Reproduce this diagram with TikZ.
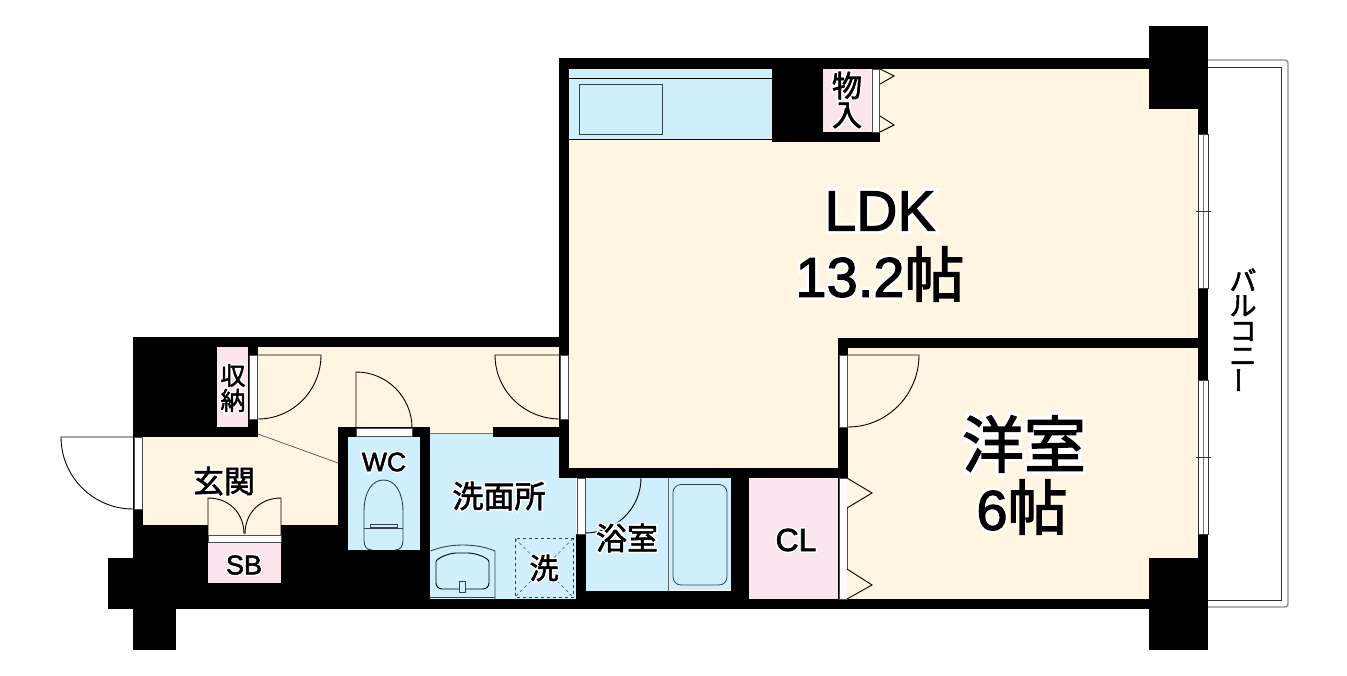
\documentclass[tikz,border=0pt]{standalone}
\usepackage{fontspec}
\usepackage{graphicx}
\usetikzlibrary{calc}
\setmainfont{Liberation Sans}
\newfontfamily\latin[FakeBold=2]{Liberation Sans}
\newfontfamily\cjk[FakeBold=2]{Noto Sans CJK JP}
\newfontfamily\cjkhalo[FakeBold=12]{Noto Sans CJK JP}
\newfontfamily\lathalo[FakeBold=12]{Liberation Sans}
\definecolor{cream}{HTML}{FFF5E0}
\definecolor{sky}{HTML}{CFEFFD}
\definecolor{rose}{HTML}{FBE6F0}
\definecolor{fix}{HTML}{33434D}
\tikzset{
  wall/.style={fill=black},
  creamroom/.style={fill=cream},
  skyroom/.style={fill=sky},
  roseroom/.style={fill=rose},
  doorstrip/.style={fill=white,draw=black!70,line width=.5pt},
  leaf/.style={draw=black,line width=.9pt},
  fixture/.style={draw=fix,line width=.9pt},
  lab/.style={inner sep=0pt,align=center,text=black},
  halo/.style={inner sep=0pt,align=center,text=white}
}
% halo label: name, position, size, font family, halo font, text
\newcommand{\lbl}[6]{%
  \node[halo,font=#5\fontsize{#3}{#3}\selectfont] at (#2) {#6};
  \node[lab,font=#4\fontsize{#3}{#3}\selectfont] (#1) at (#2) {#6};}
% door: hinge, leaf end, arc end
\newcommand{\doorleaf}[3]{%
  \draw[leaf] (#1) -- (#2) .. controls ($(#2)+0.5523*(#3)-0.5523*(#1)$) and ($(#3)+0.5523*(#2)-0.5523*(#1)$) .. (#3);}
\begin{document}
\begin{tikzpicture}[x=1pt,y=-1pt]
\useasboundingbox (0,0) rectangle (1347,676);
\fill[white] (0,0) rectangle (1347,676);
% balcony
\draw[draw=black!45,line width=1.4pt,rounded corners=3pt] (1208,60) -- (1288,60) -- (1288,607) -- (1208,607);
\draw[draw=black!80,line width=.9pt] (1208,67) -- (1281.5,67) -- (1281.5,600) -- (1208,600);
% cream rooms
\fill[creamroom] (569,69) rectangle (1198,338);
\fill[creamroom] (569,338) rectangle (838,468);
\fill[creamroom] (848,348) rectangle (1198,599);
\fill[creamroom] (258,347) rectangle (559,427);
\fill[creamroom] (258,427) rectangle (338,437);
\fill[creamroom] (430,427) rectangle (493,433);
\fill[creamroom] (143,437) rectangle (338,525);
\fill[creamroom] (208,525) rectangle (281,535);
% walls
\fill[wall] (133,337) rectangle (569,347);
\fill[wall] (133,337) rectangle (258,437);
\fill[wall] (133,437) rectangle (143,558);
\fill[wall] (133,525) rectangle (208,609);
\fill[wall] (281,525) rectangle (430,609);
\fill[wall] (208,583) rectangle (281,609);
\fill[wall] (108,558) rectangle (176,609);
\fill[wall] (133,609) rectangle (176,650);
\fill[wall] (338,427) rectangle (430,609);
\fill[wall] (430,599) rectangle (1208,609);
\fill[wall] (493,427) rectangle (569,437);
\fill[wall] (559,58) rectangle (569,478);
\fill[wall] (559,58) rectangle (1149,69);
\fill[wall] (559,468) rectangle (848,478);
\fill[wall] (838,338) rectangle (848,600);
\fill[wall] (838,338) rectangle (1208,348);
\fill[wall] (1149,26) rectangle (1208,109);
\fill[wall] (1198,26) rectangle (1208,650);
\fill[wall] (1149,558) rectangle (1208,650);
\fill[wall] (772,58) rectangle (823,142);
\fill[wall] (823,132) rectangle (880,142);
\fill[wall] (731,478) rectangle (749,609);
\fill[wall] (576,534) rectangle (586,609);
\fill[wall] (586,591) rectangle (731,609);
% kitchen
\fill[skyroom] (569,69) rectangle (772,139);
\draw[black,line width=.9pt] (569,78) -- (772,78);
\draw[black,line width=.9pt] (569,139) -- (772,139);
\draw[fixture] (579.5,84.5) rectangle (662,134);
% wet rooms
\fill[skyroom] (430,433) rectangle (493,437);
\fill[skyroom] (430,437) rectangle (559,478);
\fill[skyroom] (430,478) rectangle (576,599);
\fill[skyroom] (348,437) rectangle (419.5,550);
\fill[skyroom] (586,478) rectangle (668,591);
\fill[skyroom] (669,478) rectangle (731,590);
\draw[draw=black!55,line width=.5pt] (430,433) -- (493,433);
\draw[draw=black!60,line width=.7pt] (668.5,478) -- (668.5,591);
\draw[fixture,rounded corners=8pt,line width=.8pt] (673,484.5) rectangle (727,585);
% pink rooms
\fill[roseroom] (217,347) rectangle (248,427);
\fill[roseroom] (208,542) rectangle (281,583);
\fill[roseroom] (749,478) rectangle (838,599);
\fill[roseroom] (823,69) rectangle (871,132);
% door strips
\draw[doorstrip] (249,355) rectangle (257,419);
\draw[doorstrip] (134.5,437) rectangle (142,509);
\draw[doorstrip] (208,535) rectangle (281,542);
\draw[doorstrip] (356,428) rectangle (412,436);
\draw[doorstrip] (560,355) rectangle (568,419);
\draw[doorstrip] (839,355) rectangle (847,427);
\draw[doorstrip] (577.5,478) rectangle (585,534);
\draw[doorstrip] (839,478) rectangle (847,599);
\draw[doorstrip] (872,69) rectangle (879.5,132);
% door leaves
\doorleaf{258,355}{321,355}{258,419}
\doorleaf{133,437}{61,437}{133,509}
\doorleaf{356,428}{356,372}{412,428}
\doorleaf{560,355}{495,355}{560,419}
\doorleaf{848,355}{919,355}{848,427}
\draw[leaf] (208,535) -- (208,498) .. controls (229,498) and (244,513) .. (244,534);
\draw[leaf] (281,535) -- (281,498) .. controls (260,498) and (245,513) .. (245,534);
\draw[leaf] (585,533) .. controls (616,533) and (641,508) .. (641,478);
\draw[leaf,fill=cream] (847,478) -- (872,493) -- (847,508);
\draw[leaf,fill=cream] (847,569) -- (872,585) -- (847,599);
\draw[leaf,fill=cream] (880,69) -- (894,76) -- (880,84);
\draw[leaf,fill=cream] (880,116) -- (894,125) -- (880,132);
\draw[draw=black!70,line width=.7pt] (258,434) -- (338,463);
% toilet
\draw[fixture] (364,530) -- (364,512) .. controls (364,492) and (372,480) .. (383.5,480) .. controls (395,480) and (403,492) .. (403,512) -- (403,540) .. controls (403,547) and (400,550) .. (395,550);
\draw[fixture] (364,530) -- (364,540) .. controls (364,547) and (367,550) .. (372,550);
\draw[fixture] (364,528) -- (403,528);
\draw[fixture,line width=.7pt] (370,524) rectangle (397,527);
% sink
\draw[fixture] (430.5,551) .. controls (450,543) and (476,543) .. (495,551) -- (495,599);
\draw[fixture,line width=.7pt] (430,597) -- (495,597);
\draw[draw=black,line width=.9pt,rounded corners=6pt] (436,589) -- (436,568) .. controls (436,558) and (450,553) .. (462,553) .. controls (476,553) and (489,558) .. (489,568) -- (489,589) -- cycle;
\draw[fixture,fill=sky,line width=.7pt] (459,581) rectangle (465,592);
% laundry pan
\draw[fixture,dashed,line width=.8pt] (515,538.5) rectangle (573,597);
\draw[fixture,dashed,line width=.5pt] (515,538.5) -- (573,597);
\draw[fixture,dashed,line width=.5pt] (573,538.5) -- (515,597);
% windows
\draw[draw=black!80,fill=white,line width=.8pt] (1198,134) rectangle (1208.5,288);
\draw[draw=black!55,line width=.8pt] (1203.3,134) -- (1203.3,288);
\draw[draw=black!80,line width=.9pt] (1196,211) -- (1211,211);
\draw[draw=black!80,fill=white,line width=.8pt] (1198,380) rectangle (1208.5,534);
\draw[draw=black!55,line width=.8pt] (1203.3,380) -- (1203.3,534);
\draw[draw=black!80,line width=.9pt] (1196,457) -- (1211,457);
% labels
\lbl{ldk}{880,211}{57}{\latin}{\lathalo}{LDK}
\lbl{ldksize}{880,274}{56}{\latin}{\lathalo}{13.2{\fontsize{60}{60}\selectfont\cjk 帖}}
\lbl{yoshitsu}{1024,444}{62}{\cjk}{\cjkhalo}{洋室}
\lbl{yosize}{1022,507}{56}{\latin}{\lathalo}{6{\fontsize{60}{60}\selectfont\cjk 帖}}
\lbl{genkan}{224,481}{31}{\cjk}{\cjkhalo}{玄関}
\lbl{senmen}{499,496}{31}{\cjk}{\cjkhalo}{洗面所}
\lbl{yoku}{627,538}{31}{\cjk}{\cjkhalo}{浴室}
\lbl{sen}{544,568}{29}{\cjk}{\cjkhalo}{洗}
\lbl{wc}{384,462}{26.5}{\latin}{\lathalo}{WC}
\lbl{sb}{244,565}{27}{\latin}{\lathalo}{SB}
\lbl{cl}{796,540}{32}{\latin}{\lathalo}{CL}
\lbl{mono}{847,100}{30}{\cjk}{\cjkhalo}{物\\[-1pt]入}
\lbl{shuno}{233,388}{25}{\cjk}{\cjkhalo}{収\\納}
\node[lab,font=\cjk\fontsize{27}{25}\selectfont] (balcony) at (1243,331) {バ\\ル\\コ\\ニ\\\rotatebox{90}{ー}};
\end{tikzpicture}
\end{document}
